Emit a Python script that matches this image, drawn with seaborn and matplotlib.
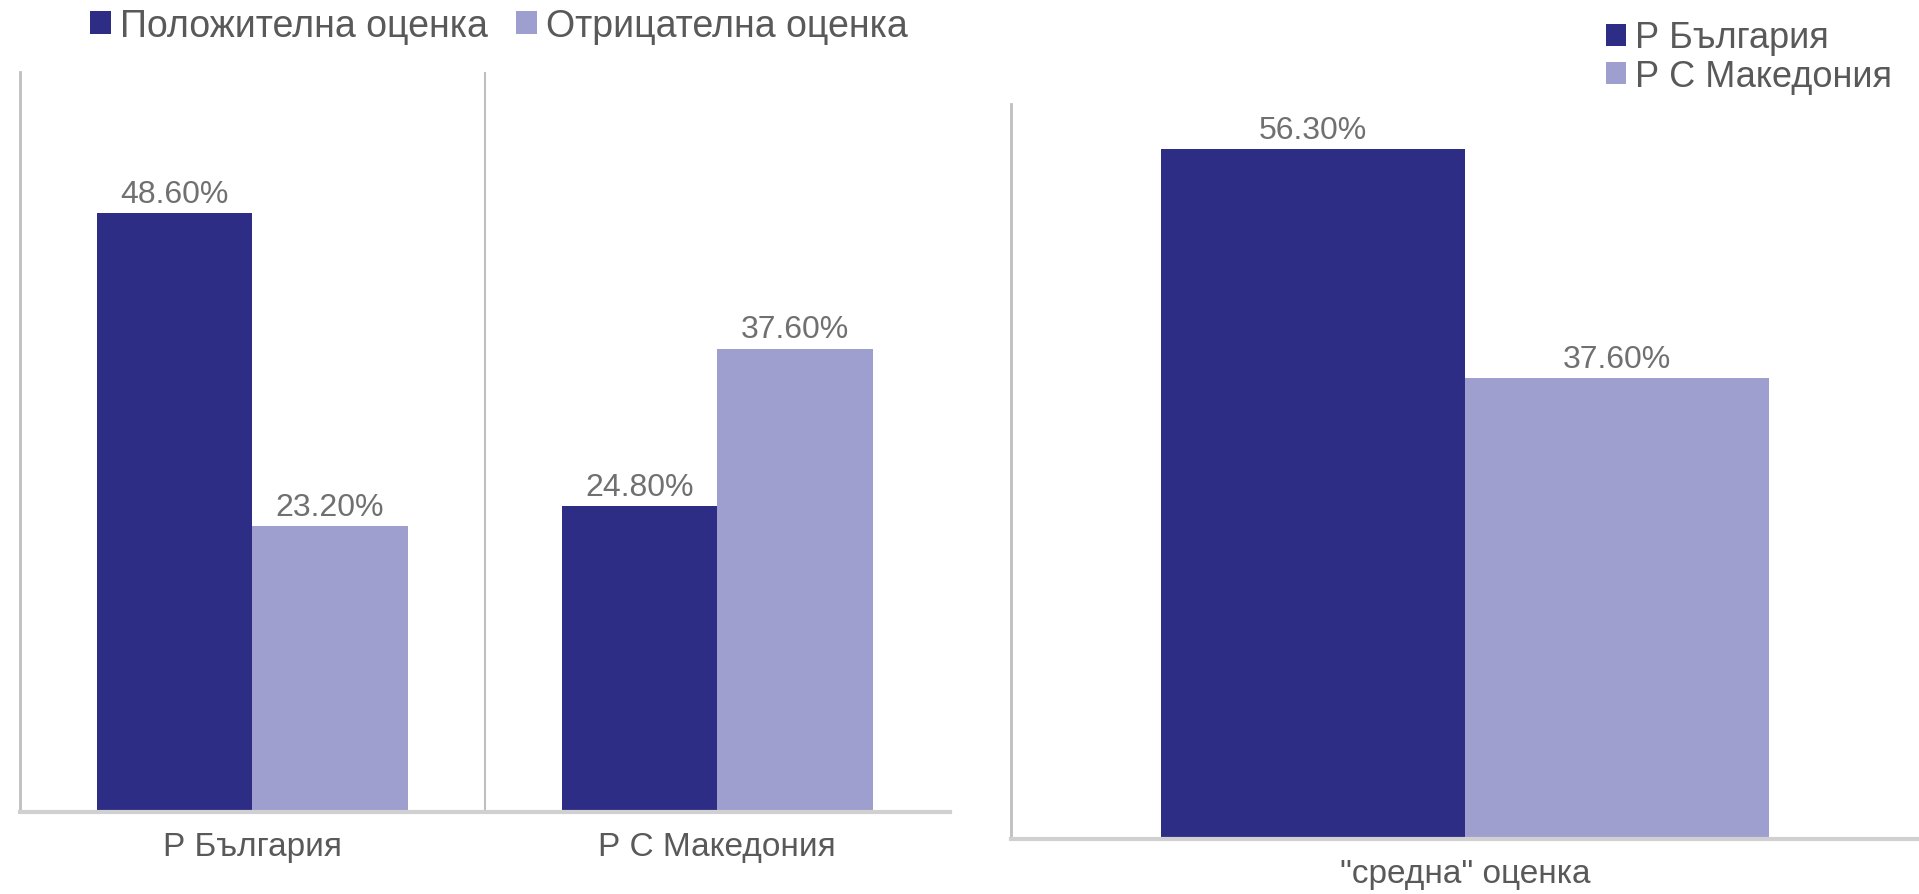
import pandas as pd
import matplotlib.pyplot as plt
import seaborn as sns

# data
countries = ["Р България", "Р С Македония"]
ratings = ["Положителна оценка", "Отрицателна оценка"]
positive = [48.6, 24.8]
negative = [23.2, 37.6]

avg_label = ['"средна" оценка']
avg_bg = [56.3]
avg_mk = [37.6]

dark = "#2e2d85"
light = "#9e9ecf"
text_gray = "#595959"
value_gray = "#707070"

sns.set_theme(style="white")
plt.rcParams["font.family"] = ["Liberation Sans", "DejaVu Sans"]

df_left = pd.DataFrame({
    "country": countries * 2,
    "rating": [ratings[0]] * 2 + [ratings[1]] * 2,
    "value": positive + negative,
})
df_right = pd.DataFrame({
    "cat": avg_label * 2,
    "country": countries,
    "value": avg_bg + avg_mk,
})

fig = plt.figure(figsize=(19.19, 8.95), dpi=100)
ax1 = fig.add_axes([0.0102, 0.0916, 0.4848, 0.8264])
ax2 = fig.add_axes([0.527, 0.0615, 0.473, 0.8215])


def style_axis(ax):
    ax.set_ylim(0, 60)
    ax.set_yticks([])
    ax.set_xlabel("")
    ax.set_ylabel("")
    for s in ["top", "right"]:
        ax.spines[s].set_visible(False)
    ax.spines["left"].set_color("#bfbfbf")
    ax.spines["left"].set_linewidth(2)
    ax.spines["bottom"].set_color("#d0d0d0")
    ax.spines["bottom"].set_linewidth(3)
    ax.tick_params(axis="x", length=0, labelsize=24, labelcolor=text_gray, pad=14)
    for c in ax.containers:
        ax.bar_label(c, fmt="%.2f%%", fontsize=23, color=value_gray, padding=3)


sns.barplot(data=df_left, x="country", y="value", hue="rating",
            palette=[dark, light], width=0.668, gap=0, saturation=1,
            linewidth=0, ax=ax1)
ax1.set_xlim(-0.5, 1.5)
ax1.axvline(0.5, color="#bfbfbf", lw=1.5)
ax1.get_legend().remove()
style_axis(ax1)

sns.barplot(data=df_right, x="cat", y="value", hue="country",
            palette=[dark, light], width=0.67, gap=0, saturation=1,
            linewidth=0, ax=ax2)
ax2.set_xlim(-0.5, 0.5)
ax2.get_legend().remove()
style_axis(ax2)

legend_kw = dict(frameon=False, labelcolor=text_gray,
                 handlelength=0.55, handleheight=0.55, handletextpad=0.25,
                 borderaxespad=0, borderpad=0)

h1, l1 = ax1.get_legend_handles_labels()
fig.legend(h1, l1, loc="upper left", bbox_to_anchor=(0.047, 0.99),
           ncol=2, columnspacing=0.75, fontsize=27, **legend_kw)

h2, l2 = ax2.get_legend_handles_labels()
fig.legend(h2, l2, loc="upper left", bbox_to_anchor=(0.837, 0.976),
           ncol=1, labelspacing=0.1, fontsize=26, **legend_kw)

fig.savefig("out.png", dpi=100)
